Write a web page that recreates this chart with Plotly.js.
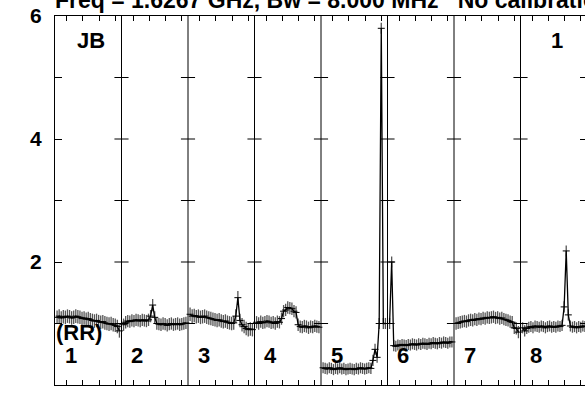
<!DOCTYPE html>
<html><head><meta charset="utf-8">
<script src="https://cdn.plot.ly/plotly-3.0.1.min.js"></script>
<style>
html,body{margin:0;padding:0;overflow:hidden;background:#fff;width:585px;height:394px}
#plot{width:592px;height:394px}
</style>
</head><body><div id="plot"></div><script>
// ---- data ----
const panelNames = ['1','2','3','4','5','6','7','8'];
const channels = [1,2,3,4,5,6,7,8,9,10,11,12,13,14,15,16,17,18,19,20,21,22,23,24,25,26,27,28,29,30,31];
const if1 = [1.10,1.12,1.09,1.11,1.10,1.12,1.11,1.09,1.10,1.12,1.11,1.10,1.08,1.09,1.07,1.08,1.06,1.05,1.04,1.05,1.03,1.02,1.03,1.01,1.00,0.99,1.00,0.98,0.97,0.95,0.88];
const if2 = [0.98,1.02,1.04,1.03,1.05,1.04,1.06,1.05,1.04,1.06,1.05,1.04,1.06,1.12,1.30,1.10,1.00,0.99,0.98,1.00,0.99,0.97,0.99,1.00,0.98,0.99,1.00,0.98,0.99,1.00,1.01];
const if3 = [1.15,1.12,1.13,1.11,1.12,1.10,1.11,1.12,1.10,1.09,1.08,1.07,1.06,1.05,1.06,1.04,1.03,1.04,1.02,1.01,1.00,1.01,1.12,1.42,1.05,0.98,0.95,0.92,0.90,0.91,0.90];
const if4 = [1.02,1.00,1.03,1.01,1.02,1.04,1.03,1.01,1.02,1.00,1.03,1.02,1.08,1.20,1.22,1.26,1.25,1.24,1.20,1.18,0.98,0.95,0.94,0.96,0.95,0.93,0.95,0.94,0.96,0.95,0.94];
const if5 = [0.28,0.27,0.26,0.28,0.27,0.25,0.27,0.26,0.28,0.26,0.27,0.25,0.26,0.27,0.26,0.25,0.27,0.26,0.28,0.27,0.26,0.27,0.28,0.27,0.40,0.58,0.45,1.00,5.80,1.00,1.00];
const if6 = [1.00,2.00,0.64,0.63,0.65,0.64,0.66,0.65,0.64,0.66,0.65,0.67,0.66,0.65,0.67,0.66,0.68,0.67,0.66,0.68,0.67,0.69,0.68,0.67,0.69,0.68,0.70,0.69,0.68,0.70,0.70];
const if7 = [1.00,1.01,1.02,1.03,1.04,1.03,1.05,1.06,1.05,1.07,1.06,1.08,1.07,1.09,1.08,1.10,1.09,1.10,1.11,1.09,1.10,1.08,1.09,1.07,1.06,1.05,1.03,1.02,0.93,0.92,0.86];
const if8 = [0.93,0.88,0.92,0.94,0.95,0.93,0.96,0.95,0.94,0.96,0.95,0.93,0.95,0.96,0.94,0.95,0.94,0.96,0.95,0.97,1.27,2.18,1.14,0.96,0.94,0.95,0.93,0.95,0.94,0.96,0.95];
const errHalf = [0.11,0.10,0.11,0.10,0.09,0.09,0.10,0.09];
const yTickVals = [0,1,2,3,4,5,6];
const yTickText = ['0','','2','','4','','6'];
const titleText = 'Freq = 1.6267 GHz, Bw = 8.000 MHz   No calibration applied';
const sourceLabel = 'JB';
const baselineLabel = '1';
const polLabel = '(RR)';

// ---- layout constants ----
const series = [if1,if2,if3,if4,if5,if6,if7,if8];
const W = 32;               // panel width in channel units
const tickOffsets = [5.6,13.4,21.2,29.0];
const FONT = 'Liberation Sans, Arial, Helvetica, sans-serif';

const traces = series.map((vals,p)=>({
  type:'scatter', mode:'lines+markers',
  x: channels.map(c=>p*W+c), y: vals,
  line:{color:'#000',width:1.3},
  marker:{symbol:'line-ew-open',size:5,color:'#000',line:{color:'#000',width:1}},
  error_y:{type:'constant',value:errHalf[p],color:'#555',thickness:1.3,width:0},
  showlegend:false, hoverinfo:'skip'
}));

const xTicks = [];
for(let p=0;p<8;p++) tickOffsets.forEach(o=>xTicks.push(p*W+o));

const shapes = [];
for(let p=1;p<8;p++){
  shapes.push({type:'line',xref:'x',yref:'y',x0:p*W,x1:p*W,y0:0,y1:6,line:{color:'#000',width:1}});
  for(let k=1;k<=5;k++){
    shapes.push({type:'line',xref:'x',yref:'y',x0:p*W-3.4,x1:p*W+3.4,y0:k,y1:k,line:{color:'#000',width:1}});
  }
}

// pixel helpers for text placement (plot area 55..587 x 16..385)
const px = v => (v-55)/532;
const py = v => (385-v)/369;
const lab = (text,x,y)=>({text:text,xref:'paper',yref:'paper',x:px(x),y:py(y),xanchor:'left',yanchor:'middle',showarrow:false,
  font:{family:FONT,size:22,color:'#000',weight:'bold'}});
const annotations = [lab(sourceLabel,75,40), lab(baselineLabel,549,40.5), lab(polLabel,54,332)];
panelNames.forEach((n,p)=>annotations.push(lab(n,55+p*66.5+7.5,355.5)));

const layout = {
  width:592, height:394,
  margin:{l:55,r:5,t:16,b:9},
  paper_bgcolor:'#fff', plot_bgcolor:'#fff',
  font:{family:FONT,color:'#000'},
  title:{text:titleText,xref:'paper',x:0,xanchor:'left',yref:'container',y:1,yanchor:'middle',
    font:{family:FONT,size:23,color:'#000',weight:'bold'}},
  xaxis:{range:[0,8*W],showline:true,linecolor:'#000',linewidth:1,mirror:'ticks',ticks:'inside',ticklen:5,
    tickcolor:'#000',tickwidth:1,tickvals:xTicks,showticklabels:false,showgrid:false,zeroline:false},
  yaxis:{range:[0,6],showline:true,linecolor:'#000',linewidth:1,mirror:'ticks',ticks:'inside',ticklen:7,
    tickcolor:'#000',tickwidth:1,tickvals:yTickVals,ticktext:yTickText,ticklabelstandoff:8,
    tickfont:{family:FONT,size:21,color:'#000',weight:'bold'},showgrid:false,zeroline:false},
  shapes:shapes, annotations:annotations
};
Plotly.newPlot('plot',traces,layout,{staticPlot:true,displayModeBar:false});
</script></body></html>
